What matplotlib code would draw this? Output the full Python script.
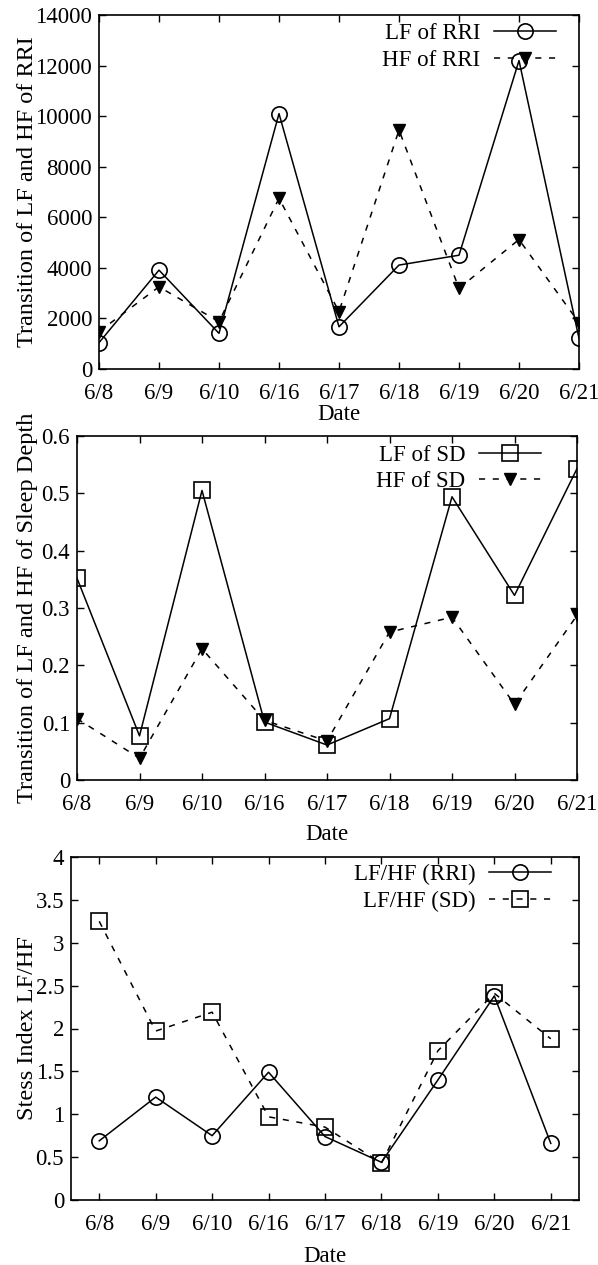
import matplotlib.pyplot as plt

plt.rcParams['font.family'] = ['Liberation Serif', 'DejaVu Serif']
plt.rcParams['font.size'] = 16.5

dates = ['6/8', '6/9', '6/10', '6/16', '6/17', '6/18', '6/19', '6/20', '6/21']

# RRI spectra
lf_rri = [1040, 3910, 1410, 10100, 1670, 4110, 4500, 12200, 1210]
hf_rri = [1480, 3250, 1870, 6750, 2270, 9450, 3190, 5120, 1830]

# sleep depth spectra
lf_sd = [0.352, 0.077, 0.505, 0.101, 0.061, 0.107, 0.494, 0.322, 0.543]
hf_sd = [0.107, 0.038, 0.229, 0.104, 0.068, 0.258, 0.284, 0.132, 0.287]

# stress index
ratio_rri = [0.69, 1.20, 0.75, 1.49, 0.74, 0.44, 1.40, 2.38, 0.66]
ratio_sd = [3.25, 1.97, 2.19, 0.97, 0.85, 0.43, 1.74, 2.41, 1.88]

W, H = 598, 1265
fig = plt.figure(figsize=(W / 100, H / 100), dpi=100)


def box(l, t, r, b):
    return [l / W, 1 - b / H, (r - l) / W, (b - t) / H]


def style(ax, xlab_y, ylab_x):
    ax.tick_params(direction='in', top=True, right=True, length=5, width=1, pad=10)
    ax.tick_params(axis='y', pad=5)
    for s in ax.spines.values():
        s.set_linewidth(1.2)
    ax.xaxis.set_label_coords(0.5, xlab_y)
    ax.yaxis.set_label_coords(ylab_x, 0.5)


def legend(ax, ax_x, ax_y):
    ax.legend(loc='upper right', bbox_to_anchor=(ax_x, ax_y), frameon=False,
              markerfirst=False, handlelength=2.7, borderaxespad=0, borderpad=0,
              labelspacing=0.25, handletextpad=0.6)


x = list(range(len(dates)))
dash = (0, (4, 5))

# top panel
ax1 = fig.add_axes(box(99, 15, 579, 369))
ax1.plot(x, lf_rri, 'k-', marker='o', ms=11, mfc='none', mew=1.2, lw=1.1, label='LF of RRI')
ax1.plot(x, hf_rri, 'k', ls=dash, marker='v', ms=9, lw=1.1, label='HF of RRI')
ax1.set_xlim(0, 8)
ax1.set_ylim(0, 14000)
ax1.set_xticks(x)
ax1.set_xticklabels(dates)
ax1.set_yticks(range(0, 14001, 2000))
ax1.set_xlabel('Date')
ax1.set_ylabel('Transition of LF and HF of RRI', fontsize=17.5)
legend(ax1, 0.952, 0.977)
style(ax1, -0.099, -0.127)

# middle panel
ax2 = fig.add_axes(box(77, 436, 577, 780))
ax2.plot(x, lf_sd, 'k-', marker='s', ms=11.5, mfc='none', mew=1.2, lw=1.1, label='LF of SD')
ax2.plot(x, hf_sd, 'k', ls=dash, marker='v', ms=9, lw=1.1, label='HF of SD')
ax2.set_xlim(0, 8)
ax2.set_ylim(0, 0.6)
ax2.set_xticks(x)
ax2.set_xticklabels(dates)
ax2.set_yticks([0, 0.1, 0.2, 0.3, 0.4, 0.5, 0.6])
ax2.set_yticklabels(['0', '0.1', '0.2', '0.3', '0.4', '0.5', '0.6'])
ax2.set_xlabel('Date')
ax2.set_ylabel('Transition of LF and HF of Sleep Depth', fontsize=17.5)
legend(ax2, 0.928, 0.975)
style(ax2, -0.127, -0.078)

# bottom panel
ax3 = fig.add_axes(box(71, 857, 579, 1200))
ax3.plot(x, ratio_rri, 'k-', marker='o', ms=11, mfc='none', mew=1.2, lw=1.1, label='LF/HF (RRI)')
ax3.plot(x, ratio_sd, 'k', ls=dash, marker='s', ms=11.5, mfc='none', mew=1.2, lw=1.1, label='LF/HF (SD)')
ax3.set_xlim(-0.5, 8.5)
ax3.set_ylim(0, 4)
ax3.set_xticks(x)
ax3.set_xticklabels(dates)
ax3.set_yticks([0, 0.5, 1, 1.5, 2, 2.5, 3, 3.5, 4])
ax3.set_yticklabels(['0', '0.5', '1', '1.5', '2', '2.5', '3', '3.5', '4'])
ax3.set_xlabel('Date')
ax3.set_ylabel('Stess Index LF/HF', fontsize=17.5)
legend(ax3, 0.945, 0.98)
style(ax3, -0.133, -0.064)

fig.savefig('out.png', dpi=100)
